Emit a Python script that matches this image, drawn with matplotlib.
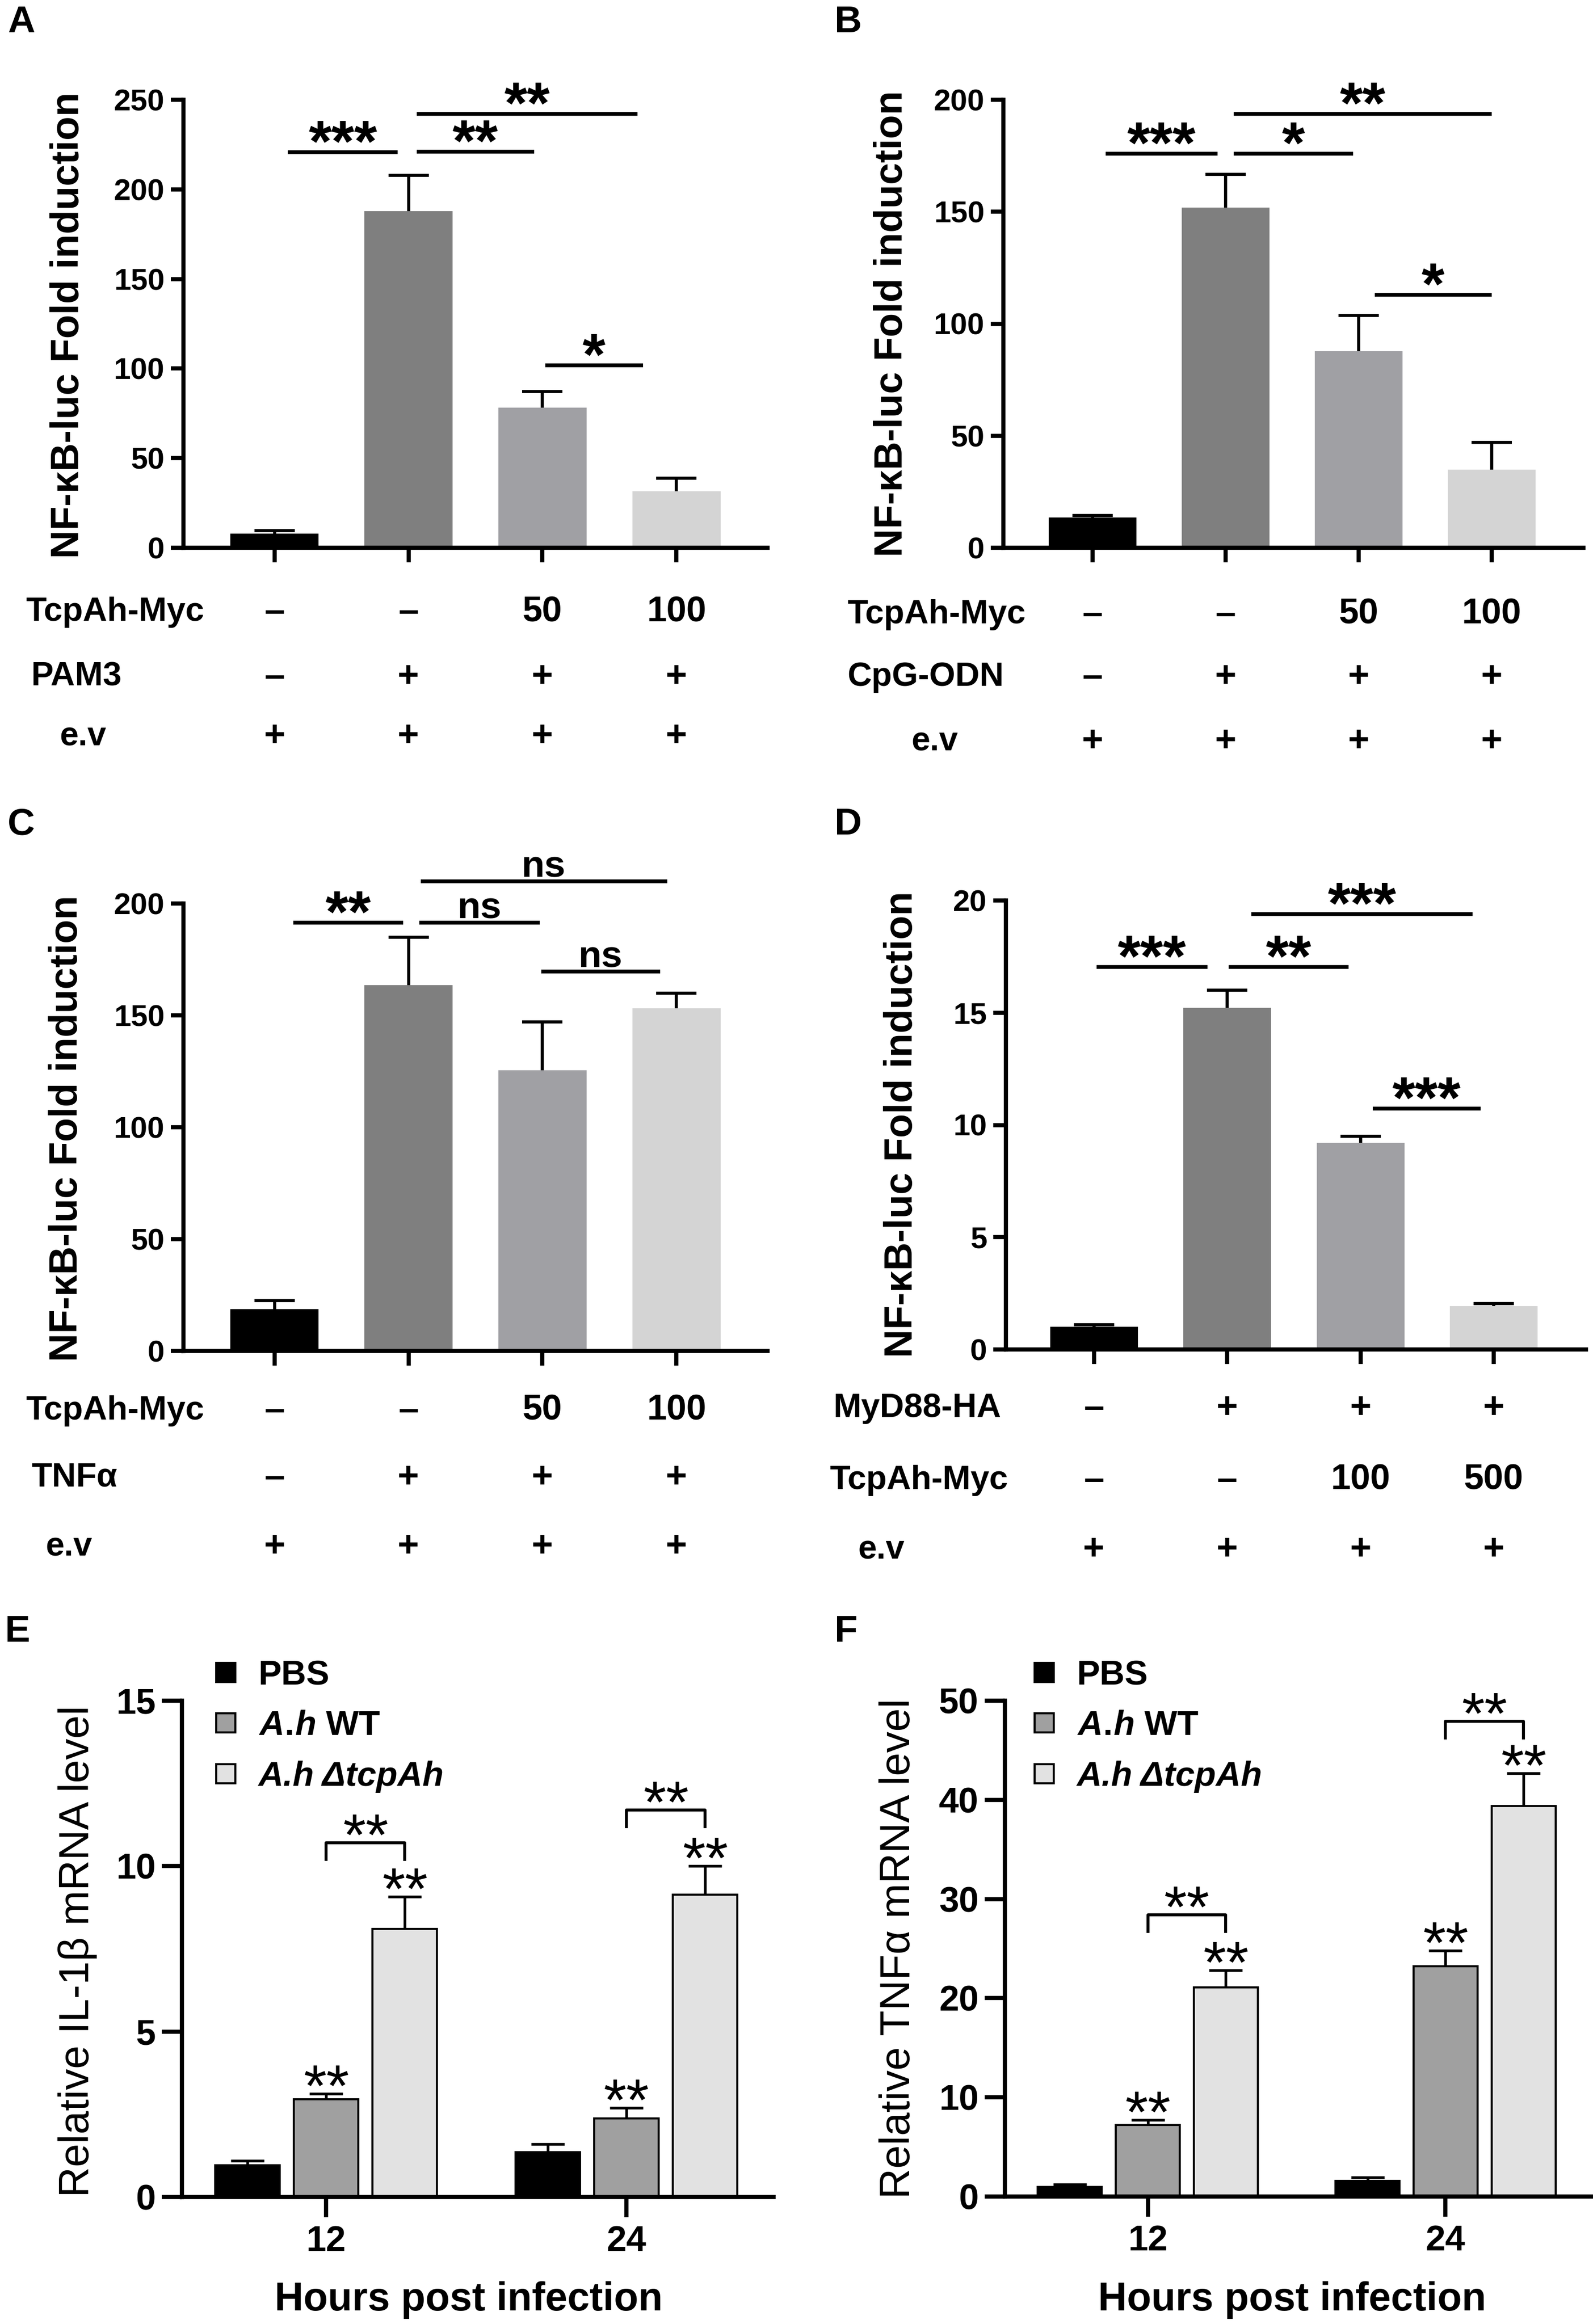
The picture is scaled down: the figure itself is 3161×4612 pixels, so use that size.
import numpy as np
import matplotlib
matplotlib.use("Agg")
import matplotlib.pyplot as plt
from matplotlib.lines import Line2D
from matplotlib.transforms import blended_transform_factory

plt.rcParams['font.family'] = ['Liberation Sans', 'DejaVu Sans']
plt.rcParams['mathtext.fontset'] = 'custom'
plt.rcParams['mathtext.rm'] = 'Liberation Sans:bold'
plt.rcParams['mathtext.it'] = 'Liberation Sans:italic:bold'
plt.rcParams['mathtext.bf'] = 'Liberation Sans:bold'

# ---------------- data ----------------
# luciferase panels A-D: 4 groups each, mean and upper SD
A_mean = [7.5, 187.5, 77.8, 31.1]
A_err = [2.2, 20.3, 9.4, 7.8]
B_mean = [13.3, 151.6, 87.6, 34.7]
B_err = [1.1, 15.1, 16.0, 12.4]
C_mean = [18.4, 163.2, 125.3, 152.9]
C_err = [4.1, 21.6, 21.8, 6.9]
D_mean = [0.98, 15.2, 9.19, 1.9]
D_err = [0.12, 0.8, 0.31, 0.15]

# significance lines (x from, x to, y, label)
A_sig = [(0.10, 0.92, 220.8, "***"), (1.06, 1.94, 221.0, "**"),
         (1.06, 2.71, 242.2, "**"), (2.02, 2.75, 101.9, "*")]
B_sig = [(0.10, 0.94, 176.0, "***"), (1.06, 1.96, 176.0, "*"),
         (1.06, 3.00, 193.8, "**"), (2.12, 3.00, 112.9, "*")]
C_sig = [(0.14, 0.96, 191.5, "**"), (1.08, 1.98, 191.5, "ns"),
         (1.09, 2.93, 209.9, "ns"), (1.99, 2.88, 169.7, "ns")]
D_sig = [(0.02, 0.85, 17.04, "***"), (1.01, 1.91, 17.04, "**"),
         (1.18, 2.84, 19.4, "***"), (2.09, 2.90, 10.74, "***")]

# condition rows under the bars
A_rows = [("TcpAh-Myc", ["–", "–", "50", "100"]),
          ("PAM3", ["–", "+", "+", "+"]),
          ("e.v", ["+", "+", "+", "+"])]
B_rows = [("TcpAh-Myc", ["–", "–", "50", "100"]),
          ("CpG-ODN", ["–", "+", "+", "+"]),
          ("e.v", ["+", "+", "+", "+"])]
C_rows = [("TcpAh-Myc", ["–", "–", "50", "100"]),
          ("TNFα", ["–", "+", "+", "+"]),
          ("e.v", ["+", "+", "+", "+"])]
D_rows = [("MyD88-HA", ["–", "+", "+", "+"]),
          ("TcpAh-Myc", ["–", "–", "100", "500"]),
          ("e.v", ["+", "+", "+", "+"])]

# qPCR panels E-F: hours post infection x series
hours = ["12", "24"]
series = ["PBS", r"$\mathit{A.\!h}$ WT", "A.h ΔtcpAh"]
E_mean = [[0.96, 1.35], [2.95, 2.37], [8.1, 9.13]]
E_err = [[0.13, 0.25], [0.17, 0.33], [0.98, 0.88]]
F_mean = [[0.99, 1.56], [7.2, 23.2], [21.1, 39.4]]
F_err = [[0.24, 0.38], [0.52, 1.6], [1.7, 3.3]]
# bracket between WT and ΔtcpAh per time point: (group, y top)
E_brackets = [(0, 10.7), (1, 11.7)]
F_brackets = [(0, 28.4), (1, 47.9)]

LUC_COLORS = ["#000000", "#7f7f7f", "#a0a0a4", "#d4d4d4"]
QPCR_COLORS = ["#000000", "#a0a0a0", "#e2e2e2"]

# ---------------- figure ----------------
W, H = 3162, 4612
DPI = 300
fig = plt.figure(figsize=(W / DPI, H / DPI), dpi=DPI)


def rect(l, r, t, b):
    return [l / W, 1 - b / H, (r - l) / W, (b - t) / H]


def fy(y):
    return 1 - y / H


def style_axes(ax, ticklen, fs):
    for s in ["top", "right"]:
        ax.spines[s].set_visible(False)
    for s in ["left", "bottom"]:
        ax.spines[s].set_linewidth(2.0)
    ax.tick_params(width=2.0, length=ticklen, direction="out", labelsize=fs, pad=3)
    for lab in ax.get_yticklabels() + ax.get_xticklabels():
        lab.set_fontweight("bold")


def hide_low_caps(eb, bottoms):
    for cl in eb.lines[1]:
        if np.allclose(cl.get_ydata(), bottoms):
            cl.set_visible(False)


def luc_panel(box, xlim, mean, err, yticks, sig, rows, row_y, row_x,
              ylab_xy, letter, letter_xy):
    ax = fig.add_axes(rect(*box))
    x = np.arange(len(mean))
    ax.bar(x, mean, width=0.65, color=LUC_COLORS, edgecolor=LUC_COLORS,
           linewidth=0.5, zorder=2)
    eb = ax.errorbar(x, mean, yerr=[np.zeros(len(err)), err], fmt="none",
                     ecolor="black", elinewidth=1.5, capsize=9.5, capthick=1.5,
                     zorder=1)
    hide_low_caps(eb, mean)
    ax.set_xlim(*xlim)
    ax.set_ylim(yticks[0], yticks[-1])
    ax.set_yticks(yticks)
    ax.set_xticks(x)
    ax.set_xticklabels([])
    style_axes(ax, 6, 14.5)
    ax.tick_params(axis="x", length=7)

    for x1, x2, y, lab in sig:
        ax.plot([x1, x2], [y, y], color="black", lw=1.8, clip_on=False,
                solid_capstyle="butt")
        if lab == "ns":
            ax.annotate(lab, ((x1 + x2) / 2, y), xytext=(0, 2.0),
                        textcoords="offset points", ha="center", va="baseline",
                        fontsize=18, fontweight="bold", annotation_clip=False)
        else:
            ax.annotate(lab, ((x1 + x2) / 2, y), xytext=(0, -4.5),
                        textcoords="offset points", ha="center", va="baseline",
                        fontsize=28, fontweight="bold", annotation_clip=False)

    trans = blended_transform_factory(ax.transData, fig.transFigure)
    for (name, marks), ry, rx in zip(rows, row_y, row_x):
        fig.text(rx / W, fy(ry), name, ha="left", va="center",
                 fontsize=16, fontweight="bold")
        for i, m in enumerate(marks):
            fs = 17 if m.isdigit() else 17.5
            ax.text(x[i], fy(ry), m, transform=trans, ha="center", va="center",
                    fontsize=fs, fontweight="bold", clip_on=False)

    fig.text(ylab_xy[0] / W, fy(ylab_xy[1]), "NF-κB-luc Fold induction",
             rotation=90, ha="center", va="center", fontsize=18.7,
             fontweight="bold")
    fig.text(letter_xy[0] / W, fy(letter_xy[1]), letter, ha="left",
             va="center", fontsize=18, fontweight="bold")
    return ax


def qpcr_panel(box, mean, err, yticks, brackets, leg_h, ylabel, ylab_xy,
               xlab_xy, leg_xy, letter, letter_xy):
    ax = fig.add_axes(rect(*box))
    g = np.arange(len(hours))
    offs = [-0.262, 0.0, 0.262]
    for k in range(len(series)):
        xs = g + offs[k]
        ax.bar(xs, mean[k], width=0.215, color=QPCR_COLORS[k], edgecolor="black",
               linewidth=1.0, zorder=2)
        eb = ax.errorbar(xs, mean[k], yerr=[np.zeros(len(hours)), err[k]],
                         fmt="none", ecolor="black", elinewidth=1.3, capsize=8,
                         capthick=1.3, zorder=3)
        hide_low_caps(eb, mean[k])
        if k > 0:
            for xi, m, e in zip(xs, mean[k], err[k]):
                ax.annotate("**", (xi, m + e), xytext=(0, -6),
                            textcoords="offset points", ha="center",
                            va="baseline", fontsize=28, annotation_clip=False)
    for gi, y in brackets:
        x1, x2 = gi + offs[1], gi + offs[2]
        ax.plot([x1, x1, x2, x2], [y - leg_h, y, y, y - leg_h], color="black",
                lw=1.4, clip_on=False)
        ax.annotate("**", ((x1 + x2) / 2, y), xytext=(0, -6),
                    textcoords="offset points", ha="center", va="baseline",
                    fontsize=28, annotation_clip=False)

    ax.set_xlim(-0.48, 1.49)
    ax.set_ylim(yticks[0], yticks[-1])
    ax.set_yticks(yticks)
    ax.set_xticks(g)
    ax.set_xticklabels(hours)
    style_axes(ax, 9.5, 17)
    ax.tick_params(axis="x", pad=4)

    handles = [Line2D([], [], marker="s", ls="none", markersize=9,
                      markerfacecolor=c, markeredgecolor="black",
                      markeredgewidth=1.0) for c in QPCR_COLORS]
    leg = ax.legend(handles, series, loc="upper left",
                    bbox_to_anchor=(leg_xy[0] / W, fy(leg_xy[1])),
                    bbox_transform=fig.transFigure, frameon=False,
                    handlelength=0.75, handletextpad=0.57, labelspacing=0.53,
                    borderpad=0, borderaxespad=0,
                    prop={"weight": "bold", "size": 16.5})
    leg.get_texts()[2].set_style("italic")

    fig.text(ylab_xy[0] / W, fy(ylab_xy[1]), ylabel, rotation=90, ha="center",
             va="center", fontsize=20)
    fig.text(xlab_xy[0] / W, fy(xlab_xy[1]), "Hours post infection",
             ha="center", va="center", fontsize=19, fontweight="bold")
    fig.text(letter_xy[0] / W, fy(letter_xy[1]), letter, ha="left",
             va="center", fontsize=18, fontweight="bold")
    return ax


luc_panel((364, 1523, 198, 1087), (-0.68, 3.68), A_mean, A_err,
          [0, 50, 100, 150, 200, 250], A_sig, A_rows, [1215, 1344, 1462],
          [51, 62, 118], (136, 645), "A", (15, 44))
luc_panel((1991, 3142, 198, 1087), (-0.67, 3.69), B_mean, B_err,
          [0, 50, 100, 150, 200], B_sig, B_rows, [1220, 1344, 1472],
          [1681, 1681, 1808], (1770, 642), "B", (1656, 44))
luc_panel((364, 1523, 1793, 2681), (-0.68, 3.68), C_mean, C_err,
          [0, 50, 100, 150, 200], C_sig, C_rows, [2800, 2933, 3070],
          [51, 62, 90], (133, 2239), "C", (15, 1637))
luc_panel((1996, 3147, 1787, 2678), (-0.66, 3.69), D_mean, D_err,
          [0, 5, 10, 15, 20], D_sig, D_rows, [2795, 2938, 3076],
          [1653, 1646, 1702], (1790, 2231), "D", (1656, 1637))

qpcr_panel((361, 1535, 3375, 4360), E_mean, E_err, [0, 5, 10, 15],
           E_brackets, 0.5, "Relative IL-1β mRNA level", (154, 3872),
           (930, 4565), (422, 3293), "E", (10, 3238))
qpcr_panel((1994, 3158, 3375, 4359), F_mean, F_err, [0, 10, 20, 30, 40, 50],
           F_brackets, 1.65, "Relative TNFα mRNA level", (1783, 3867),
           (2564, 4565), (2046, 3293), "F", (1656, 3238))

fig.savefig("out.png", dpi=DPI)
